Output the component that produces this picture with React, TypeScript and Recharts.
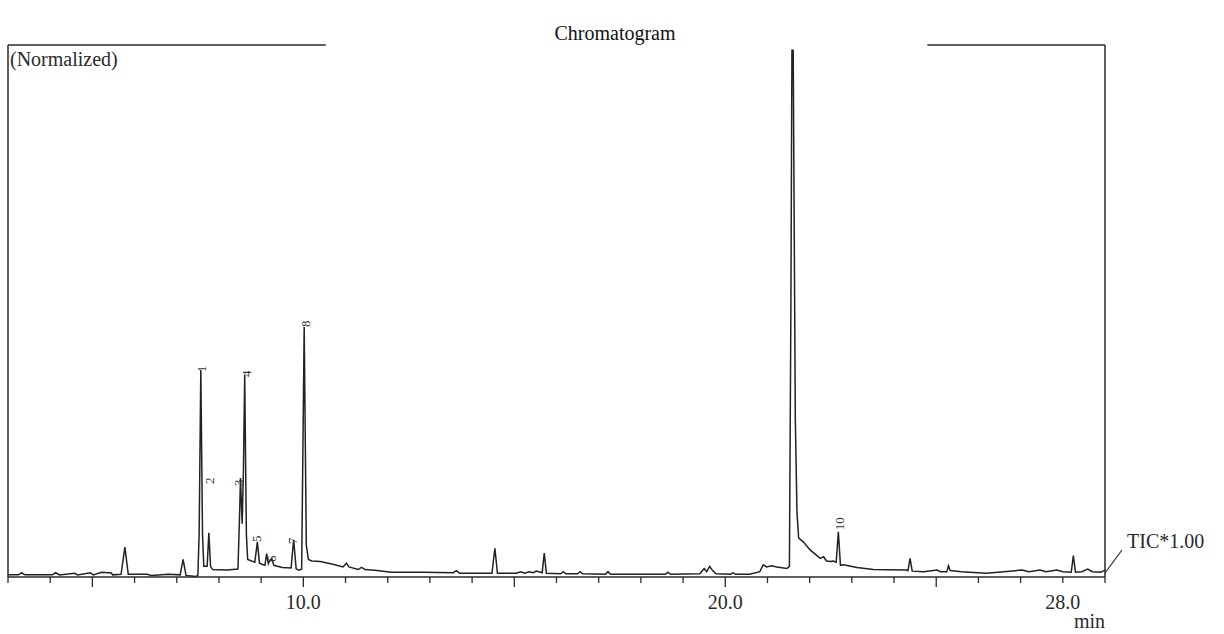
import React from 'react';
import { ComposedChart, Line, Scatter, XAxis, YAxis, ReferenceLine } from 'recharts';

// retention time (min), normalized intensity (% of full scale)
const trace: [number, number][] = [
    [3.0, 0.4], [3.25, 0.4], [3.32, 0.8], [3.4, 0.4], [4.05, 0.4], [4.13, 0.8], [4.22, 0.4],
    [4.58, 0.7], [4.65, 0.4], [4.95, 0.8], [5.02, 0.4], [5.22, 0.9], [5.45, 0.75], [5.48, 0.4],
    [5.68, 0.5], [5.77, 5.6], [5.85, 0.5], [6.3, 0.5], [6.4, 0.3], [6.8, 0.5], [7.08, 0.4],
    [7.15, 3.3], [7.22, 0.3], [7.45, 0.1], [7.5, 0.3], [7.53, 8], [7.57, 38.9], [7.61, 8],
    [7.64, 2.0], [7.72, 2.0], [7.76, 8.3], [7.8, 2.0], [7.85, 1.4], [8.2, 1.3], [8.45, 1.5],
    [8.49, 12], [8.51, 18.6], [8.55, 10], [8.58, 20], [8.61, 38.0], [8.65, 8], [8.68, 3.3],
    [8.85, 2.8], [8.91, 6.6], [8.96, 2.6], [9.05, 2.3], [9.09, 2.2], [9.13, 4.4], [9.17, 2.5],
    [9.2, 3.0], [9.25, 3.5], [9.3, 2.2], [9.5, 1.8], [9.71, 1.7], [9.77, 7.0], [9.83, 1.5],
    [9.9, 1.3], [9.96, 1.5], [10.02, 47.0], [10.07, 6], [10.12, 3.3], [10.2, 3.0], [10.4, 2.9],
    [10.7, 2.4], [10.94, 1.9], [11.02, 2.6], [11.08, 1.9], [11.3, 1.4], [11.38, 1.8], [11.46, 1.4],
    [11.75, 1.2], [12.08, 0.9], [12.5, 0.9], [12.85, 0.9], [13.55, 0.8], [13.63, 1.2], [13.7, 0.7],
    [14.02, 0.7], [14.47, 0.7], [14.54, 5.4], [14.6, 0.7], [15.05, 0.7], [15.15, 1.0], [15.25, 0.7],
    [15.35, 1.0], [15.45, 0.8], [15.52, 1.1], [15.66, 0.8], [15.71, 4.5], [15.76, 0.7], [16.1, 0.6],
    [16.16, 1.0], [16.22, 0.6], [16.5, 0.6], [16.56, 1.0], [16.62, 0.6], [17.16, 0.5], [17.22, 1.0],
    [17.28, 0.5], [18.58, 0.5], [18.64, 0.9], [18.7, 0.5], [19.4, 0.6], [19.5, 1.6], [19.56, 1.0],
    [19.63, 2.0], [19.7, 1.2], [19.78, 0.6], [20.12, 0.5], [20.18, 0.8], [20.25, 0.5], [20.58, 0.5],
    [20.82, 1.0], [20.9, 2.3], [20.98, 1.9], [21.1, 2.1], [21.22, 1.9], [21.46, 1.6], [21.52, 2.0],
    [21.555, 50], [21.58, 99], [21.61, 99], [21.66, 30], [21.7, 12], [21.74, 7.3], [21.85, 6.6],
    [22.01, 5.1], [22.25, 3.5], [22.33, 3.8], [22.4, 3.0], [22.5, 2.9], [22.56, 3.0], [22.63, 2.8],
    [22.68, 8.5], [22.73, 2.2], [22.8, 2.3], [23.12, 1.8], [23.51, 1.4], [24.3, 1.3], [24.33, 1.2],
    [24.38, 3.5], [24.43, 1.1], [24.7, 1.0], [25.02, 1.3], [25.1, 1.0], [25.25, 1.0], [25.29, 2.1],
    [25.33, 1.2], [25.6, 1.0], [26.19, 0.7], [26.6, 1.0], [27.03, 1.3], [27.2, 1.0], [27.46, 1.3],
    [27.6, 1.0], [27.86, 1.3], [28.0, 1.0], [28.2, 0.9], [28.25, 4.0], [28.3, 0.9], [28.45, 1.0],
    [28.59, 1.5], [28.7, 1.0], [28.9, 0.9], [29.0, 1.3],
];

const peakIds = ['1', '2', '3', '4', '5', '6', '7', '8', '10'];
const peakLabelTimes = [7.59, 7.78, 8.47, 8.65, 8.89, 9.25, 9.75, 10.04, 22.7];
const peakLabelHeights = [38.5, 17.5, 17.1, 37.6, 6.6, 2.8, 6.2, 47.0, 8.8];

const xTicks = [3, 4, 5, 6, 7, 8, 9, 10, 11, 12, 13, 14, 15, 16, 17, 18, 19, 20, 21, 22, 23, 24, 25, 26, 27, 28, 29];
const majorTicks = [5, 10, 15, 20, 25];
const labelledTicks = [10, 20, 28];

const data = trace.map(([t, v]) => ({ t, v }));
const labels = peakIds.map((id, i) => ({ t: peakLabelTimes[i], v: peakLabelHeights[i], id }));

const serif = '"Liberation Serif", "Times New Roman", serif';
const ink = '#2a2a2a';

const TimeTick = (props: any) => {
    const { x, y, payload } = props;
    const val = payload.value;
    const len = majorTicks.includes(val) ? 10 : 6;
    return (
        <g>
            <line x1={x} y1={y} x2={x} y2={y + len} stroke={ink} strokeWidth={1.3} />
            {labelledTicks.includes(val) && (
                <text x={x} y={y + 32} textAnchor="middle" fontFamily={serif} fontSize={20} fill={ink}>
                    {val.toFixed(1)}
                </text>
            )}
        </g>
    );
};

const PeakLabel = (props: any) => {
    const { cx, cy, payload } = props;
    return (
        <text
            x={cx}
            y={cy}
            transform={`rotate(-90, ${cx}, ${cy})`}
            textAnchor="start"
            dominantBaseline="central"
            fontFamily={serif}
            fontSize={13}
            fill="#333"
        >
            {payload.id}
        </text>
    );
};

export default function App() {
    return (
        <div style={{ position: 'absolute', left: 0, top: 0, width: 1224, height: 634, background: '#fff' }}>
            <ComposedChart width={1224} height={634} data={data} margin={{ top: 45, right: 119, left: 8, bottom: 0 }}>
                <XAxis
                    dataKey="t"
                    type="number"
                    domain={[3, 29]}
                    ticks={xTicks}
                    height={57}
                    tickSize={0}
                    tickMargin={0}
                    tickLine={false}
                    axisLine={{ stroke: ink, strokeWidth: 1.5 }}
                    tick={<TimeTick />}
                    interval={0}
                />
                <YAxis type="number" domain={[0, 100]} hide />
                <ReferenceLine x={3} stroke={ink} strokeWidth={1.5} />
                <ReferenceLine x={29} stroke={ink} strokeWidth={1.5} />
                <ReferenceLine segment={[{ x: 3, y: 100 }, { x: 10.53, y: 100 }]} stroke={ink} strokeWidth={1.5} />
                <ReferenceLine segment={[{ x: 24.79, y: 100 }, { x: 29, y: 100 }]} stroke={ink} strokeWidth={1.5} />
                <Line
                    dataKey="v"
                    type="linear"
                    stroke="#222"
                    strokeWidth={1.5}
                    dot={false}
                    isAnimationActive={false}
                />
                <Scatter data={labels} dataKey="v" shape={<PeakLabel />} isAnimationActive={false} />
            </ComposedChart>
            <svg width={1224} height={634} style={{ position: 'absolute', left: 0, top: 0, pointerEvents: 'none' }}>
                <text x={615} y={40} textAnchor="middle" fontFamily={serif} fontSize={20} fill="#111">
                    Chromatogram
                </text>
                <text x={10} y={66} fontFamily={serif} fontSize={20} fill={ink}>
                    (Normalized)
                </text>
                <line x1={1105} y1={573} x2={1122} y2={550} stroke={ink} strokeWidth={1.2} />
                <text x={1127} y={548} fontFamily={serif} fontSize={20} fill={ink}>
                    TIC*1.00
                </text>
                <text x={1105} y={628} textAnchor="end" fontFamily={serif} fontSize={20} fill={ink}>
                    min
                </text>
            </svg>
        </div>
    );
}
